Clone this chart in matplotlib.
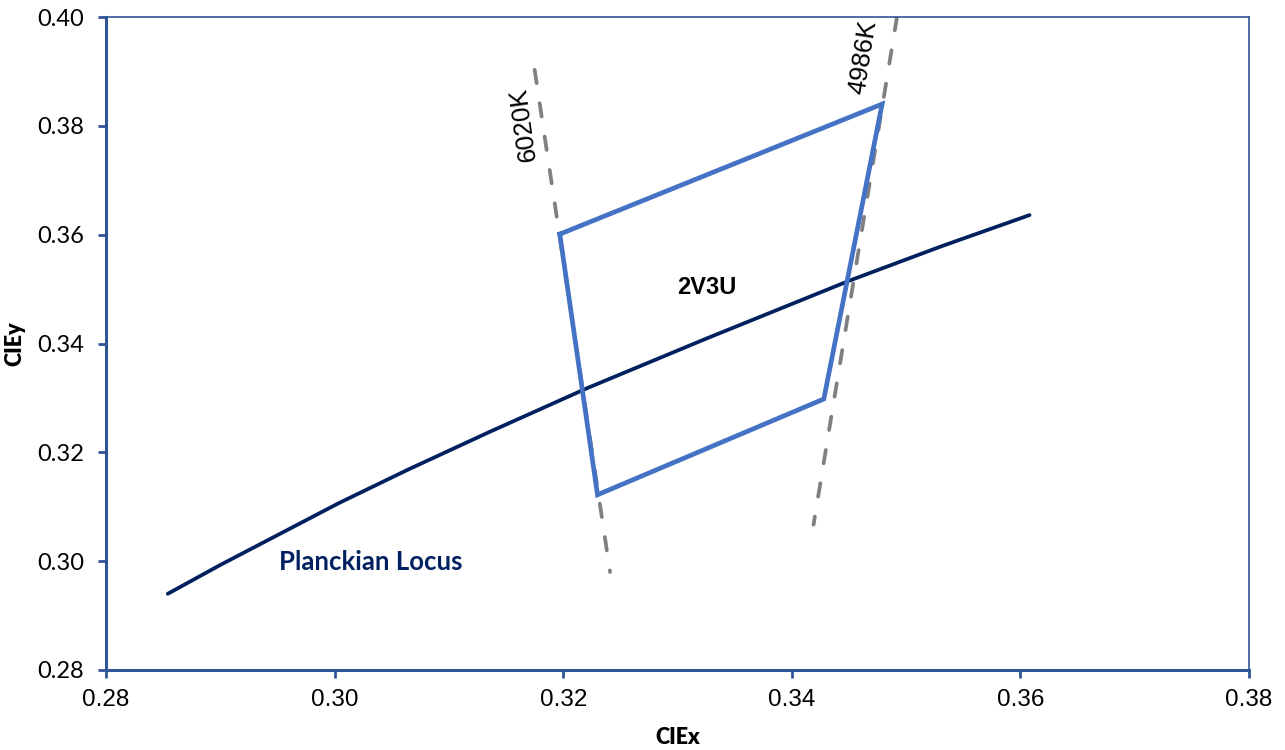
import matplotlib
matplotlib.use('Agg')
import matplotlib.pyplot as plt

# planckian locus
locus_x = [0.2854, 0.2900, 0.2952, 0.3004, 0.3064, 0.3135, 0.3221, 0.3324, 0.3451, 0.3530, 0.3608]
locus_y = [0.2940, 0.2993, 0.3050, 0.3107, 0.3168, 0.3237, 0.3318, 0.3408, 0.3516, 0.3578, 0.3636]

# 2V3U quadrangle
quad_x = [0.3197, 0.3479, 0.3428, 0.3230, 0.3197]
quad_y = [0.3601, 0.3840, 0.3298, 0.3122, 0.3601]

# iso-CCT lines
cct6020_x = [0.3175, 0.3241]
cct6020_y = [0.3903, 0.2980]
cct4986_x = [0.3492, 0.3419]
cct4986_y = [0.4000, 0.3067]

SPINE = '#2F5597'
ARIAL = 'Liberation Sans'
CALIBRI = 'Lato'

fig = plt.figure(figsize=(12.85, 7.5), dpi=100)
ax = fig.add_axes([0.0825, 0.1067, 0.972 - 0.0825, 0.9773 - 0.1067])

dash = dict(color='#808080', lw=2.7, ls=(0, (3.6, 5.4)), dash_capstyle='round')
ax.plot(cct6020_x, cct6020_y, **dash)
ax.plot(cct4986_x, cct4986_y, **dash)
ax.plot(locus_x, locus_y, color='#002060', lw=2.7, solid_capstyle='round')
ax.plot(quad_x, quad_y, color='#4472C4', lw=3.4, solid_joinstyle='miter')

ax.text(0.31657, 0.38034, '6020K', rotation=98, ha='center', va='center',
        fontsize=18.5, family=ARIAL)
ax.text(0.34623, 0.39265, '4986K', rotation=81, ha='center', va='center',
        fontsize=18.5, family=ARIAL)
ax.text(0.33258, 0.35020, '2V3U', ha='center', va='center', fontsize=17,
        fontweight='bold', family=ARIAL)
ax.text(0.30318, 0.29985, 'Planckian Locus', ha='center', va='center', fontsize=18.5,
        fontweight='bold', family=CALIBRI, color='#002060')

ax.set_xlim(0.28, 0.38)
ax.set_ylim(0.28, 0.40)
ax.set_xticks([0.28, 0.30, 0.32, 0.34, 0.36, 0.38])
ax.set_yticks([0.28, 0.30, 0.32, 0.34, 0.36, 0.38, 0.40])
ax.xaxis.set_major_formatter(matplotlib.ticker.FormatStrFormatter('%.2f'))
ax.yaxis.set_major_formatter(matplotlib.ticker.FormatStrFormatter('%.2f'))

for s in ['left', 'bottom']:
  ax.spines[s].set_linewidth(2.2)
  ax.spines[s].set_color(SPINE)
for s in ['top', 'right']:
  ax.spines[s].set_linewidth(1.2)
  ax.spines[s].set_color(SPINE)
ax.tick_params(direction='out', length=6, width=2, color=SPINE)
ax.tick_params(axis='x', pad=8)
ax.tick_params(axis='y', pad=10)
for lab in ax.get_xticklabels():
  lab.set_fontfamily(ARIAL)
  lab.set_fontsize(17.5)
for lab in ax.get_yticklabels():
  lab.set_fontfamily(CALIBRI)
  lab.set_fontsize(17)

ax.set_xlabel('CIEx', fontsize=15.5, fontweight='heavy', family=CALIBRI, labelpad=11)
ax.set_ylabel('CIEy', fontsize=15.5, fontweight='heavy', family=CALIBRI, labelpad=8)

fig.savefig('out.png', dpi=100)
